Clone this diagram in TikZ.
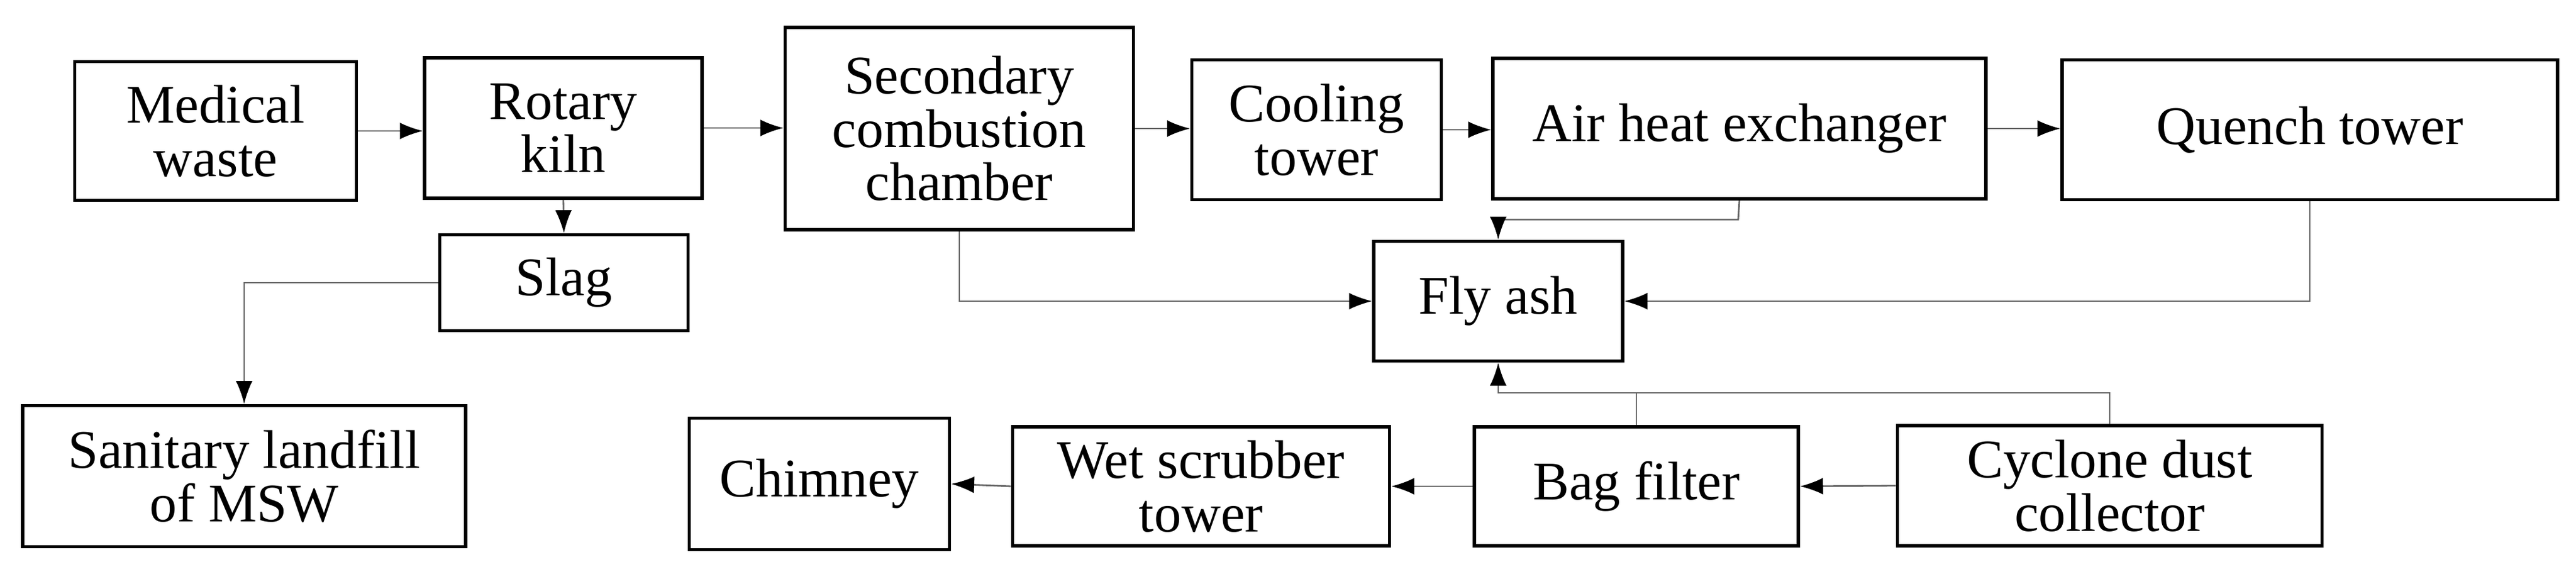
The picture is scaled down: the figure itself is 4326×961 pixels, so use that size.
\documentclass[tikz,border=0pt]{standalone}
\usepackage{fontspec}
\setmainfont{Liberation Serif}
\usetikzlibrary{arrows.meta}
\begin{document}
\begin{tikzpicture}[x=0.1mm,y=-0.1mm,
  box/.style={draw,line width=1.6pt,inner sep=0pt,align=center,
    font=\fontsize{26}{25.5}\selectfont},
  con/.style={draw=black!60,line width=0.8pt},
  arr/.style={con,-{Latex[length=11pt,width=8pt,black]}}]
\useasboundingbox (0,0) rectangle (4326,961);
\node[box,minimum width=47.3mm,minimum height=23.3mm] (med) at (362,220) {Medical\\waste};
\node[box,minimum width=46.6mm,minimum height=23.6mm] (rot) at (946,215) {Rotary\\kiln};
\node[box,minimum width=58.5mm,minimum height=34mm] (sec) at (1611,216) {Secondary\\combustion\\chamber};
\node[box,minimum width=41.9mm,minimum height=23.5mm] (coo) at (2211,218) {Cooling\\tower};
\node[box,minimum width=82.8mm,minimum height=23.6mm] (air) at (2921,216) {Air heat exchanger};
\node[box,minimum width=83.2mm,minimum height=23.5mm] (que) at (3879,218) {Quench tower};
\node[box,minimum width=41.7mm,minimum height=16.1mm] (slag) at (947,475) {Slag};
\node[box,minimum width=74.4mm,minimum height=23.7mm] (san) at (410,800) {Sanitary landfill\\of MSW};
\node[box,minimum width=43.7mm,minimum height=22.1mm] (chi) at (1376,813) {Chimney};
\node[box,minimum width=63.3mm,minimum height=20mm] (wet) at (2017,817) {Wet scrubber\\tower};
\node[box,minimum width=54.4mm,minimum height=20mm] (bag) at (2748,817) {Bag filter};
\node[box,minimum width=71.3mm,minimum height=20.2mm] (cyc) at (3543,816) {Cyclone dust\\collector};
\node[box,minimum width=41.8mm,minimum height=20.1mm] (fly) at (2516,506) {Fly ash};
\coordinate (j) at (2516,660);
\coordinate (k) at (2919,369);
\draw[arr] (med.east) -- (med.east -| rot.west);
\draw[arr] (rot.east) -- (rot.east -| sec.west);
\draw[arr] (sec.east) -- (sec.east -| coo.west);
\draw[arr] (coo.east) -- (coo.east -| air.west);
\draw[arr] (air.east) -- (air.east -| que.west);
\draw[arr] (rot.south) -- (slag.north);
\draw[arr] (slag.west) -| (san.north);
\draw[arr] (sec.south) |- (fly.west);
\draw[arr] (air.south) -- (k) -| (fly.north);
\draw[arr] (que.south) |- (fly.east);
\draw[arr] (cyc.west) -- (bag.east);
\draw[arr] (bag.west) -- (wet.east);
\draw[arr] (wet.west) -- (chi.east);
\draw[con] (bag.north) -- (bag.north |- j);
\draw[arr] (cyc.north) -- (cyc.north |- j) -- (j) -- (fly.south);
\end{tikzpicture}
\end{document}
